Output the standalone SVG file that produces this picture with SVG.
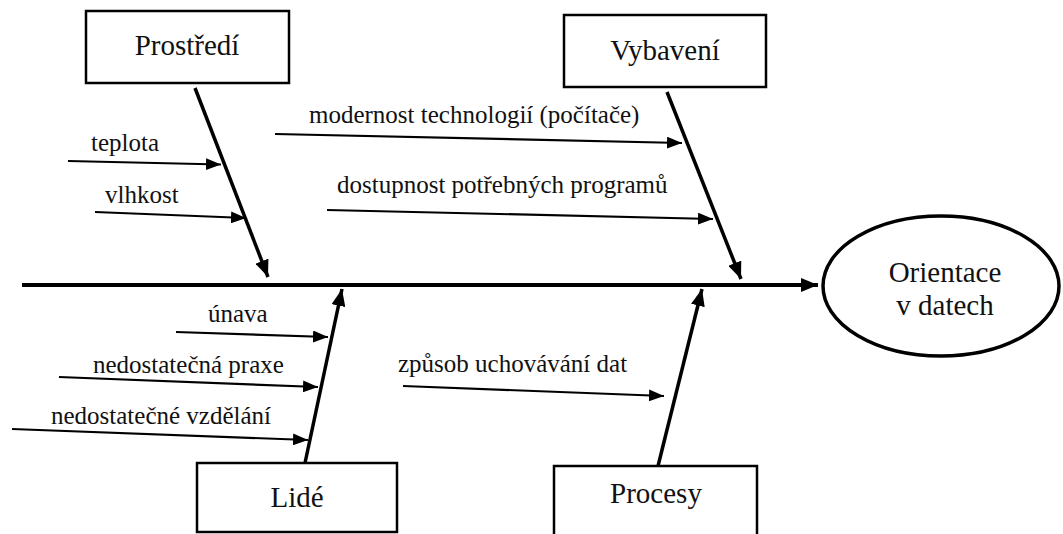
<svg xmlns="http://www.w3.org/2000/svg" width="1063" height="534" viewBox="0 0 1063 534">
<style>
.box{fill:#fff;stroke:#000;stroke-width:2.5}
.bt{font-family:'Liberation Serif','DejaVu Serif',serif;font-size:29px;fill:#111;text-anchor:middle}
.lt{font-family:'Liberation Serif','DejaVu Serif',serif;font-size:25px;fill:#111}
.spine{stroke:#000;stroke-width:4;fill:none}
.bone{stroke:#000;stroke-width:3.5;fill:none}
.cause{stroke:#000;stroke-width:2.2;fill:none}
</style>
<defs>
<marker id="ah" markerUnits="userSpaceOnUse" markerWidth="18" markerHeight="14" viewBox="0 0 18 14" refX="17" refY="7" orient="auto">
<path d="M0,0 L17,7 L0,14 Z" fill="#000"/>
</marker>
<marker id="ahs" markerUnits="userSpaceOnUse" markerWidth="16" markerHeight="12" viewBox="0 0 16 12" refX="15" refY="6" orient="auto">
<path d="M0,0 L15,6 L0,12 Z" fill="#000"/>
</marker>
</defs>
<rect width="1063" height="534" fill="#fff"/>
<g id="connectors">
<line class="spine" x1="22" y1="285" x2="818" y2="285" marker-end="url(#ah)"/>
<line class="bone" x1="195" y1="88" x2="268" y2="277" marker-end="url(#ah)"/>
<line class="bone" x1="667" y1="92" x2="741" y2="279" marker-end="url(#ah)"/>
<line class="bone" x1="305" y1="463" x2="342" y2="289" marker-end="url(#ah)"/>
<line class="bone" x1="658" y1="466" x2="702" y2="289" marker-end="url(#ah)"/>
<line class="cause" x1="68" y1="161" x2="221" y2="164.5" marker-end="url(#ahs)"/>
<line class="cause" x1="95" y1="212" x2="246" y2="218" marker-end="url(#ahs)"/>
<line class="cause" x1="275" y1="134" x2="682" y2="143" marker-end="url(#ahs)"/>
<line class="cause" x1="327" y1="210" x2="713" y2="219" marker-end="url(#ahs)"/>
<line class="cause" x1="176" y1="332" x2="328" y2="337" marker-end="url(#ahs)"/>
<line class="cause" x1="59" y1="377" x2="318" y2="387" marker-end="url(#ahs)"/>
<line class="cause" x1="12" y1="429" x2="308" y2="440" marker-end="url(#ahs)"/>
<line class="cause" x1="403" y1="386" x2="664" y2="396" marker-end="url(#ahs)"/>
</g>
<g id="prostredi">
<rect class="box" x="86" y="11" width="203" height="72"/>
<text class="bt" x="187" y="55">Prostředí</text>
</g>
<g id="vybaveni">
<rect class="box" x="564" y="15" width="202" height="72"/>
<text class="bt" x="665" y="60">Vybavení</text>
</g>
<g id="lide">
<rect class="box" x="197" y="463" width="200" height="69"/>
<text class="bt" x="297" y="507">Lidé</text>
</g>
<g id="procesy">
<rect class="box" x="554" y="466" width="203" height="72"/>
<text class="bt" x="656" y="503">Procesy</text>
</g>
<g id="orientace">
<ellipse cx="941" cy="286" rx="118" ry="70" fill="#fff" stroke="#000" stroke-width="3.5"/>
<text class="bt" x="945" y="282">Orientace</text>
<text class="bt" x="945" y="315">v datech</text>
</g>
<g id="labels">
<text class="lt" x="91" y="151">teplota</text>
<text class="lt" x="105" y="203">vlhkost</text>
<text class="lt" x="309" y="123">modernost technologií (počítače)</text>
<text class="lt" x="337" y="193">dostupnost potřebných programů</text>
<text class="lt" x="208" y="322">únava</text>
<text class="lt" x="93" y="373">nedostatečná praxe</text>
<text class="lt" x="51" y="424">nedostatečné vzdělání</text>
<text class="lt" x="398" y="372">způsob uchovávání dat</text>
</g>
</svg>
